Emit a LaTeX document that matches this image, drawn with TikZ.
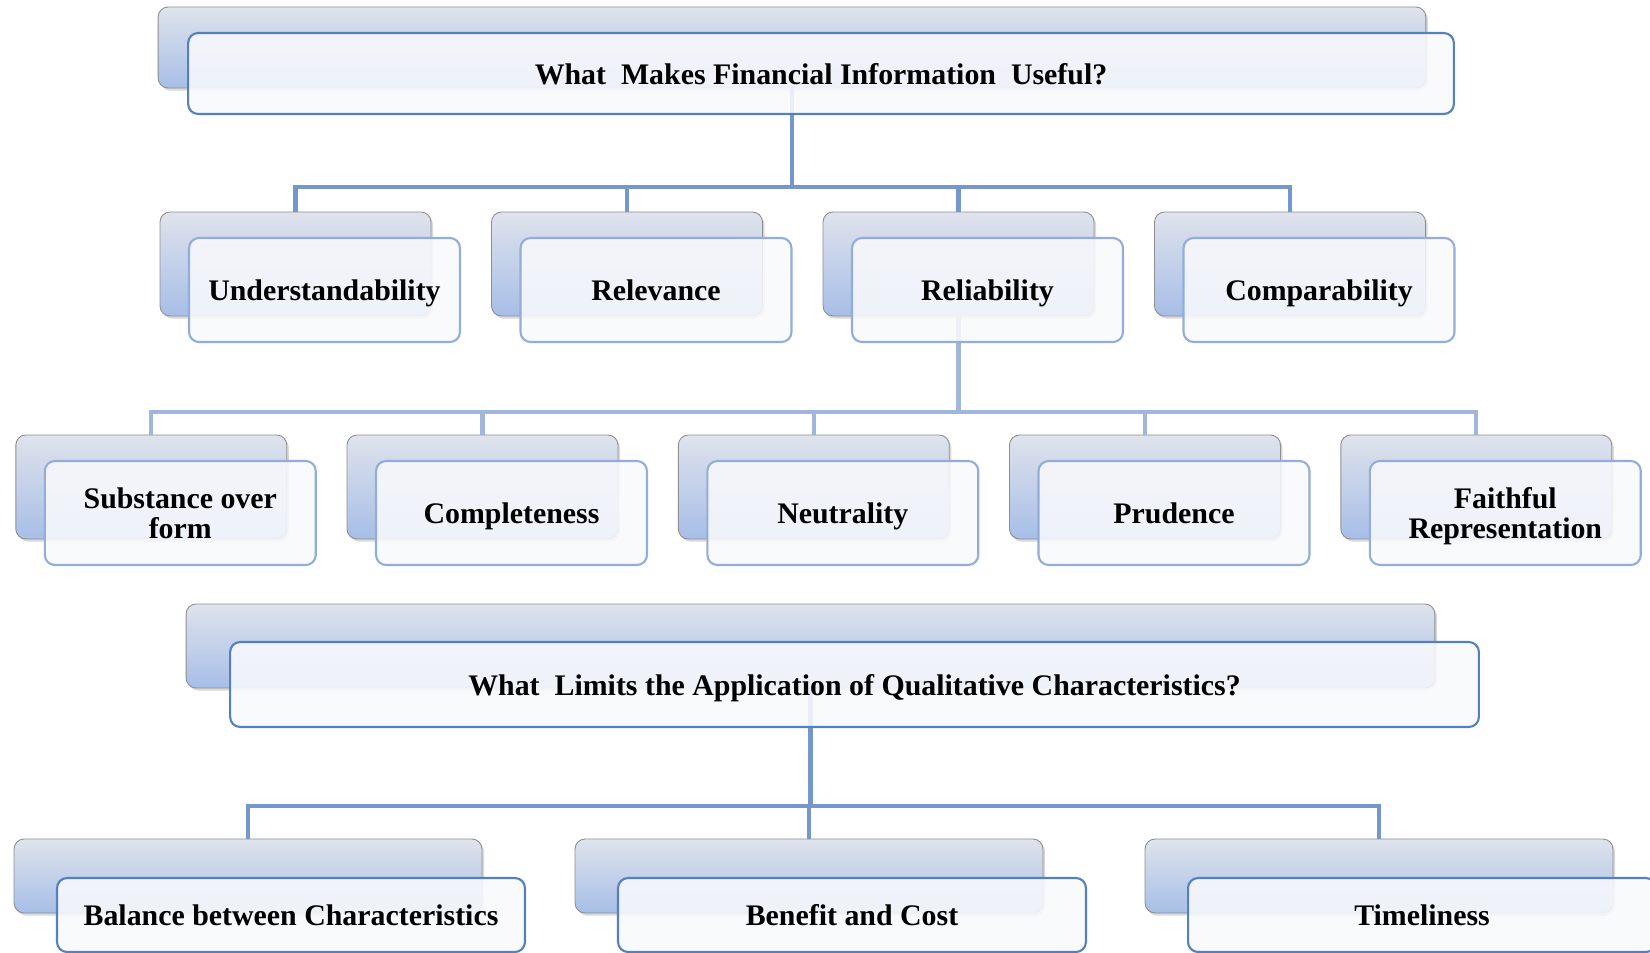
\documentclass[tikz,border=0pt]{standalone}
\usepackage{fontspec}
\setmainfont{Liberation Serif}
\usetikzlibrary{shadows}
\definecolor{backtop}{HTML}{DFE3EC}
\definecolor{backbot}{HTML}{A7BEE7}
\definecolor{backline}{HTML}{8E8E8E}
\definecolor{frontfill}{HTML}{F8F9FC}
\definecolor{frontline}{HTML}{93ADDA}
\definecolor{titleline}{HTML}{5580C0}
\definecolor{linkcol}{HTML}{7697CB}
\definecolor{linklight}{HTML}{A2B6DA}
\tikzset{
  back/.style={rounded corners=0.2cm, draw=backline, line width=0.5pt,
    top color=backtop, bottom color=backbot, inner sep=0pt,
    drop shadow={shadow xshift=1.2pt, shadow yshift=-1.5pt, opacity=0.3}},
  front/.style={rounded corners=0.2cm, draw=frontline, line width=1.2pt,
    fill=frontfill, fill opacity=0.88, text opacity=1, inner sep=0pt,
    text depth=0pt, align=center, font=\bfseries\fontsize{17}{17}\selectfont},
  title/.style={front, draw=titleline},
  cell/.style={minimum width=5.42cm, minimum height=2.08cm},
  wide/.style={minimum width=9.36cm, minimum height=1.48cm},
  link/.style={draw=linkcol, line width=2.3pt},
}
\begin{document}
\begin{tikzpicture}[x=0.02cm, y=-0.02cm]
  \useasboundingbox (0,0) rectangle (1650,953);

  % back boxes
  \node[back, minimum width=25.36cm, minimum height=1.62cm] (useful-b) at (792,47.5) {};
  \node[back, cell] (und-b) at (295.5,264) {};
  \node[back, cell] (rel-b) at (627,264) {};
  \node[back, cell] (reli-b) at (958.5,264) {};
  \node[back, cell] (comp-b) at (1290,264) {};

  \node[back, cell] (subst-b) at (151.3,487) {};
  \node[back, cell] (compl-b) at (482.5,487) {};
  \node[back, cell] (neut-b) at (813.8,487) {};
  \node[back, cell] (prud-b) at (1145,487) {};
  \node[back, cell] (faith-b) at (1476.3,487) {};

  \node[back, minimum width=24.98cm, minimum height=1.68cm] (limits-b) at (810.5,646) {};
  \node[back, wide] (bal-b) at (248,876) {};
  \node[back, wide] (ben-b) at (809,876) {};
  \node[back, wide] (time-b) at (1379,876) {};

  % connectors
  \coordinate (bar1) at (792,187);
  \coordinate (bar2) at (958.5,412);
  \coordinate (bar3) at (810.5,806);

  \draw[link] (useful-b.south) -- (bar1);
  \draw[link] (und-b.north) |- (bar1) -| (comp-b.north);
  \draw[link] (rel-b.north) -- (rel-b.north |- bar1);
  \draw[link] (reli-b.north) -- (reli-b.north |- bar1);

  \draw[link, draw=linklight] (reli-b.south) -- (bar2);
  \draw[link, draw=linklight] (subst-b.north) |- (bar2) -| (faith-b.north);
  \draw[link, draw=linklight] (compl-b.north) -- (compl-b.north |- bar2);
  \draw[link, draw=linklight] (neut-b.north) -- (neut-b.north |- bar2);
  \draw[link, draw=linklight] (prud-b.north) -- (prud-b.north |- bar2);

  \draw[link] (limits-b.south) -- (bar3);
  \draw[link] (bal-b.north) |- (bar3) -| (time-b.north);
  \draw[link] (ben-b.north) -- (ben-b.north |- bar3);

  % front boxes
  \node[title, minimum width=25.32cm, minimum height=1.62cm] (useful-f) at (821,73.5) {What\ \ Makes Financial Information\ \ Useful?};
  \node[front, cell] (und-f) at (324.5,290) {Understandability};
  \node[front, cell] (rel-f) at (656,290) {Relevance};
  \node[front, cell] (reli-f) at (987.5,290) {Reliability};
  \node[front, cell] (comp-f) at (1319,290) {Comparability};

  \node[front, cell] (subst-f) at (180.3,513) {Substance over\\form};
  \node[front, cell] (compl-f) at (511.5,513) {Completeness};
  \node[front, cell] (neut-f) at (842.8,513) {Neutrality};
  \node[front, cell] (prud-f) at (1174,513) {Prudence};
  \node[front, cell] (faith-f) at (1505.3,513) {Faithful\\Representation};

  \node[title, minimum width=24.98cm, minimum height=1.7cm] (limits-f) at (854.5,684.5) {What\ \ Limits the Application of Qualitative Characteristics?};
  \node[title, wide] (bal-f) at (291,915) {Balance between Characteristics};
  \node[title, wide] (ben-f) at (852,915) {Benefit and Cost};
  \node[title, wide] (time-f) at (1422,915) {Timeliness};
\end{tikzpicture}
\end{document}
